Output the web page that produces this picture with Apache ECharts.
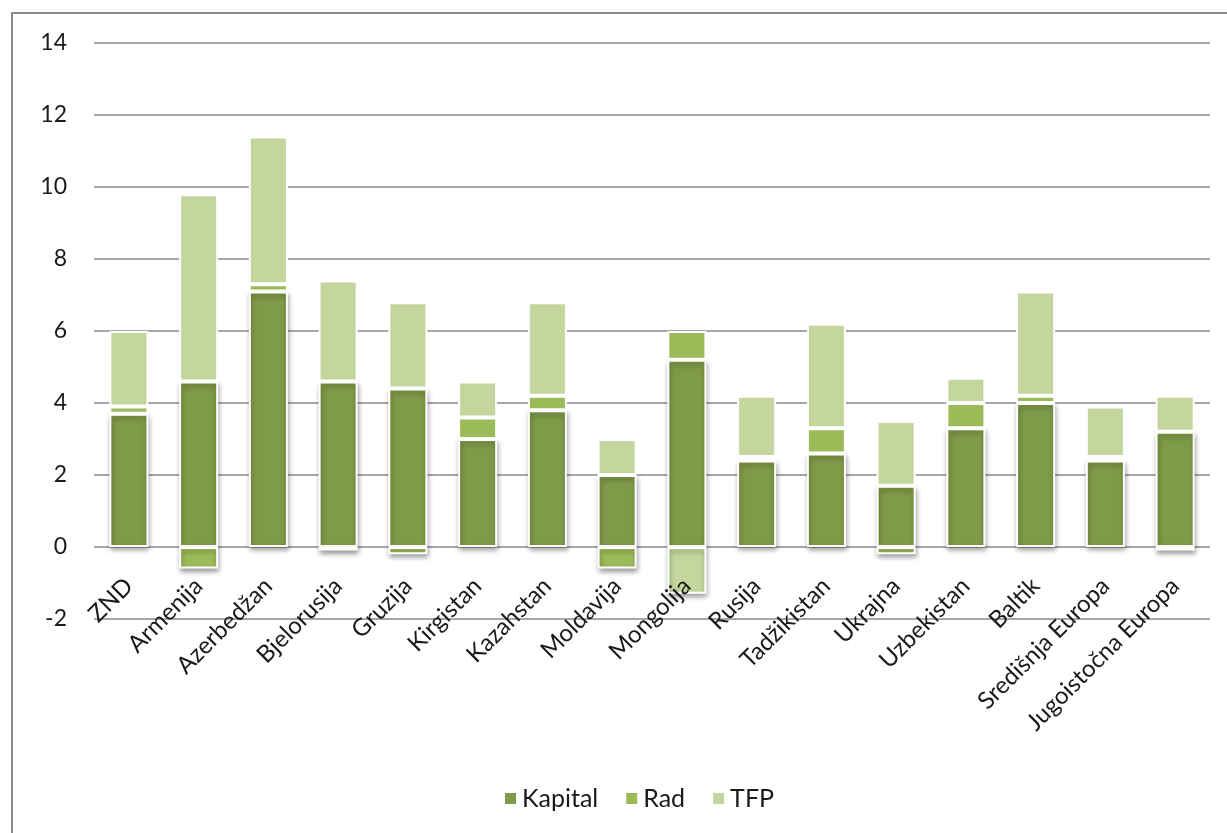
<!DOCTYPE html>
<html>
<head>
<meta charset="utf-8">
<script src="https://cdn.jsdelivr.net/npm/echarts@6/dist/echarts.min.js"></script>
<style>
  html, body { margin: 0; padding: 0; background: #fff; }
  #chart { width: 1227px; height: 833px; }
</style>
</head>
<body>
<div id="chart"></div>
<script>
// Growth decomposition by country: capital, labour and TFP contributions
const categories = ['ZND', 'Armenija', 'Azerbedžan', 'Bjelorusija', 'Gruzija', 'Kirgistan',
  'Kazahstan', 'Moldavija', 'Mongolija', 'Rusija', 'Tadžikistan', 'Ukrajna',
  'Uzbekistan', 'Baltik', 'Središnja Europa', 'Jugoistočna Europa'];
const kapital = [3.7, 4.6, 7.1, 4.6, 4.4, 3.0, 3.8, 2.0, 5.2, 2.4, 2.6, 1.7, 3.3, 4.0, 2.4, 3.2];
const rad     = [0.2, -0.6, 0.2, -0.1, -0.2, 0.6, 0.4, -0.6, 0.8, 0.1, 0.7, -0.2, 0.7, 0.2, 0.1, -0.1];
const tfp     = [2.1, 5.2, 4.1, 2.8, 2.4, 1.0, 2.6, 1.0, -1.3, 1.7, 2.9, 1.8, 0.7, 2.9, 1.4, 1.0];
const yTicks = [-2, 0, 2, 4, 6, 8, 10, 12, 14];
</script>
<script>
const FONT = 'Lato';
const colors = { kapital: '#7F9A48', rad: '#9BBB59', tfp: '#C4D69E' };

// Shadow only under the lowest segment of each stack (Kapital, and any negative part)
const shadow = { shadowColor: 'rgba(0,0,0,0.35)', shadowBlur: 5, shadowOffsetX: 1, shadowOffsetY: 3 };
function items(values, withShadow) {
  return values.map(v => {
    const s = (withShadow || v < 0) ? shadow : {};
    return { value: v, itemStyle: Object.assign({}, s) };
  });
}

function barSeries(name, values, color, withShadow) {
  return {
    name: name,
    type: 'bar',
    stack: 'total',
    barWidth: '56%',
    data: items(values, withShadow),
    itemStyle: { color: color, borderColor: '#ffffff', borderWidth: 2 }
  };
}

const chart = echarts.init(document.getElementById('chart'));
chart.setOption({
  animation: false,
  backgroundColor: '#ffffff',
  textStyle: { fontFamily: FONT },
  graphic: [{
    type: 'rect',
    shape: { x: 12, y: 13, width: 1400, height: 1000 },
    style: { fill: 'none', stroke: '#8c8c8c', lineWidth: 2 },
    silent: true
  }],
  grid: { left: 94, right: 17, top: 43, bottom: 214 },
  legend: {
    bottom: 17,
    left: 498,
    itemWidth: 13,
    itemHeight: 13,
    itemGap: 26,
    icon: 'rect',
    textStyle: { fontFamily: FONT, fontSize: 25, color: '#1a1a1a' },
    data: ['Kapital', 'Rad', 'TFP']
  },
  xAxis: {
    type: 'category',
    position: 'bottom',
    z: 5,
    data: categories,
    // category labels sit just under the zero line, crossing the -2 gridline
    axisLine: { show: false, onZero: false },
    axisTick: { show: false },
    axisLabel: {
      interval: 0,
      rotate: 45,
      margin: -37,
      fontFamily: FONT,
      fontSize: 24,
      color: '#1a1a1a'
    }
  },
  yAxis: {
    type: 'value',
    min: yTicks[0],
    max: yTicks[yTicks.length - 1],
    interval: 2,
    axisLine: { show: false },
    axisTick: { show: false },
    splitLine: { lineStyle: { color: '#8a8a8a', width: 1.5 } },
    axisLabel: { margin: 27, fontFamily: FONT, fontSize: 23, color: '#1a1a1a' }
  },
  series: [
    barSeries('Kapital', kapital, colors.kapital, true),
    barSeries('Rad', rad, colors.rad, false),
    barSeries('TFP', tfp, colors.tfp, false)
  ]
});
</script>
</body>
</html>
